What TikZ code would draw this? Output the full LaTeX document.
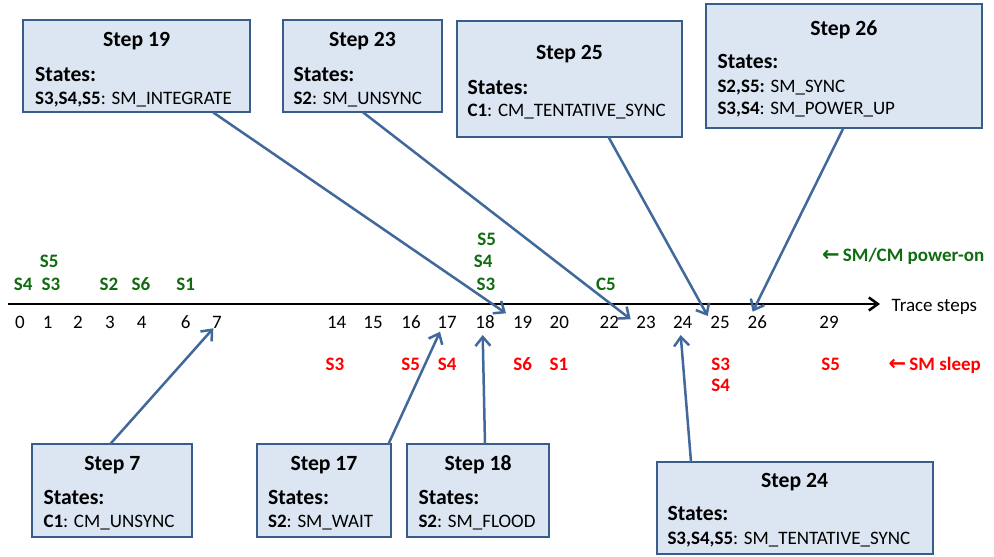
\documentclass[tikz,border=0pt]{standalone}
\usepackage{fontspec}
\setmainfont{Carlito}
\newfontfamily\arrfont{DejaVu Sans}
\usetikzlibrary{arrows.meta}
\definecolor{boxfill}{RGB}{220,230,242}
\definecolor{boxline}{RGB}{56,93,138}
\definecolor{arrcol}{RGB}{65,104,155}
\definecolor{smgreen}{RGB}{16,108,16}
\definecolor{smred}{RGB}{255,0,0}
\begin{document}
\begin{tikzpicture}[x=1pt,y=-1pt,
  stepbox/.style={draw=boxline, fill=boxfill, line width=2pt, inner sep=0pt, outer sep=0pt},
  ttl/.style={anchor=base, font=\fontsize{21.7}{24}\selectfont\bfseries, inner sep=0pt},
  sts/.style={anchor=base west, font=\fontsize{21.7}{24}\selectfont\bfseries, inner sep=0pt},
  det/.style={anchor=base west, font=\fontsize{19}{22}\selectfont, inner sep=0pt},
  tick/.style={anchor=base, font=\fontsize{19}{22}\selectfont, inner sep=0pt},
  gl/.style={anchor=base, font=\fontsize{19}{22}\selectfont\bfseries, text=smgreen, inner sep=0pt},
  rl/.style={anchor=base, font=\fontsize{19}{22}\selectfont\bfseries, text=smred, inner sep=0pt},
  conn/.style={draw=arrcol, line width=2.5pt, -{Straight Barb[length=9pt,width=15pt]}}
]
\useasboundingbox (0,0) rectangle (994,557);

% axis
\coordinate (ax0) at (8,304);
\coordinate (ax1) at (880,304);
\draw[line width=2.5pt, -{Straight Barb[length=9pt,width=13pt]}] (ax0) -- (ax1);
\node[anchor=base west, font=\fontsize{19}{22}\selectfont, inner sep=0pt] (tr) at (891.5,311) {Trace steps};

% tick labels
\foreach \n/\x in {0/20,1/47.7,2/78,3/110,4/141.7,6/185.7,7/217,14/336.7,15/373,16/411,17/447,18/485,19/522.7,20/559.3,22/609.3,23/646,24/682.7,25/720,26/757.3,29/829}
  \node[tick] (k\n) at (\x,328) {\n};

% green labels (power-on)
\node[gl] (g1) at (23.3,290.7) {S4};
\node[gl] (g2) at (51,290.7) {S3};
\node[gl] (g3) at (49.3,267.7) {S5};
\node[gl] (g4) at (109,290.7) {S2};
\node[gl] (g5) at (141,290.7) {S6};
\node[gl] (g6) at (185.7,290.7) {S1};
\node[gl] (g7) at (486,290.7) {S3};
\node[gl] (g8) at (483.3,267.7) {S4};
\node[gl] (g9) at (486.7,245) {S5};
\node[gl] (g10) at (606,290.7) {C5};
\node[anchor=base west, font=\fontsize{19}{22}\selectfont\bfseries, text=smgreen, inner sep=0pt] (lg1) at (822,261.7) {{\arrfont\bfseries\fontsize{21}{21}\selectfont ←}\,SM/CM power-on};

% red labels (sleep)
\node[rl] (r1) at (335,370) {S3};
\node[rl] (r2) at (410.7,370) {S5};
\node[rl] (r3) at (447.3,370) {S4};
\node[rl] (r4) at (522.7,370) {S6};
\node[rl] (r5) at (559,370) {S1};
\node[rl] (r6) at (720.7,370) {S3};
\node[rl] (r7) at (720.7,391.7) {S4};
\node[rl] (r8) at (830.7,370) {S5};
\node[anchor=base west, font=\fontsize{19}{22}\selectfont\bfseries, text=smred, inner sep=0pt] (lg2) at (888.5,370) {{\arrfont\bfseries\fontsize{21}{21}\selectfont ←}\,SM sleep};

% boxes
\node[stepbox, minimum width=226.7pt, minimum height=92.3pt] (b19) at (136.65,66.15) {};
\node[stepbox, minimum width=159.6pt, minimum height=92.3pt] (b23) at (362.5,66.15) {};
\node[stepbox, minimum width=225.6pt, minimum height=115.7pt] (b25) at (569.5,78.85) {};
\node[stepbox, minimum width=275.7pt, minimum height=124.3pt] (b26) at (843.85,66.15) {};
\node[stepbox, minimum width=160pt, minimum height=92.4pt] (b7) at (112.3,490.5) {};
\node[stepbox, minimum width=134pt, minimum height=92.4pt] (b17) at (324,490.5) {};
\node[stepbox, minimum width=141.7pt, minimum height=92.4pt] (b18) at (478.15,490.5) {};
\node[stepbox, minimum width=276pt, minimum height=92.3pt] (b24) at (794.7,507.85) {};

% box texts
\node[ttl] (t19a) at (136.65,46) {Step 19};
\node[sts] (t19b) at (35,81) {States:};
\node[det] (t19c) at (35,104) {\textbf{S3,S4,S5}: SM\_INTEGRATE};

\node[ttl] (t23a) at (362.5,46) {Step 23};
\node[sts] (t23b) at (293.3,81) {States:};
\node[det] (t23c) at (293.3,104) {\textbf{S2}: SM\_UNSYNC};

\node[ttl] (t25a) at (569.5,59.3) {Step 25};
\node[sts] (t25b) at (467.3,94.3) {States:};
\node[det] (t25c) at (467.3,116.1) {\textbf{C1}: CM\_TENTATIVE\_SYNC};

\node[ttl] (t26a) at (843.85,35.3) {Step 26};
\node[sts] (t26b) at (717.3,68.7) {States:};
\node[det] (t26c) at (717.3,92.1) {\textbf{S2,S5:} SM\_SYNC};
\node[det] (t26d) at (717.3,114.4) {\textbf{S3,S4}: SM\_POWER\_UP};

\node[ttl] (t7a) at (112.3,470.3) {Step 7};
\node[sts] (t7b) at (43.3,504.7) {States:};
\node[det] (t7c) at (43.3,527.8) {\textbf{C1}: CM\_UNSYNC};

\node[ttl] (t17a) at (324,470.3) {Step 17};
\node[sts] (t17b) at (267.9,504.7) {States:};
\node[det] (t17c) at (267.9,527.8) {\textbf{S2}: SM\_WAIT};

\node[ttl] (t18a) at (478.15,470.3) {Step 18};
\node[sts] (t18b) at (418.3,504.7) {States:};
\node[det] (t18c) at (418.3,527.8) {\textbf{S2}: SM\_FLOOD};

\node[ttl] (t24a) at (794.7,487.7) {Step 24};
\node[sts] (t24b) at (667.3,520.3) {States:};
\node[det] (t24c) at (667.3,544.4) {\textbf{S3,S4,S5}: SM\_TENTATIVE\_SYNC};

% connector tips
\coordinate (p19) at (506,313.3);
\coordinate (p23) at (630.7,319.3);
\coordinate (p25) at (707.7,316);
\coordinate (p26) at (752.7,311.7);
\coordinate (p7) at (213.3,328.3);
\coordinate (p17) at (440,331.7);
\coordinate (p18) at (482.7,335);
\coordinate (p24) at (680.7,335);

% connectors
\draw[conn] ([xshift=76.35pt]b19.south) -- (p19);
\draw[conn] ([xshift=0.5pt]b23.south) -- (p23);
\draw[conn] ([xshift=38.8pt]b25.south) -- (p25);
\draw[conn] ([xshift=-0.55pt]b26.south) -- (p26);
\draw[conn] ([xshift=-2.3pt]b7.north) -- (p7);
\draw[conn] ([xshift=64.3pt]b17.north) -- (p17);
\draw[conn] ([xshift=6.85pt]b18.north) -- (p18);
\draw[conn] ([xshift=-103.7pt]b24.north) -- (p24);
\end{tikzpicture}
\end{document}
